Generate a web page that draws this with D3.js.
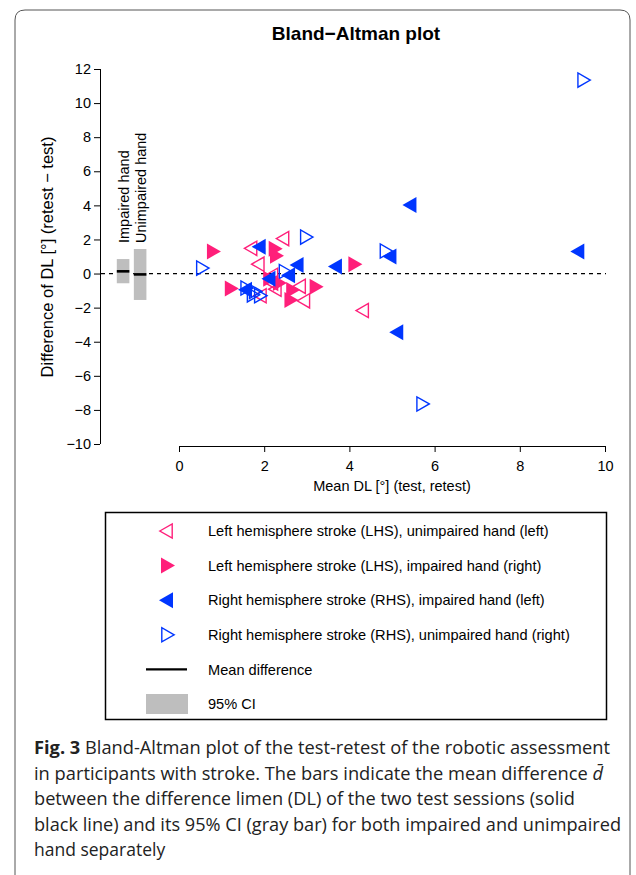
<!DOCTYPE html>
<html><head><meta charset="utf-8">
<script src="https://cdn.jsdelivr.net/npm/d3@7"></script>
<style>body{margin:0;background:#fff}svg{display:block}</style>
</head><body>
<script>
// ---- data ----
const lhsUnimpaired = [[1.68,1.48],[2.43,2.05],[1.85,0.55],[2.17,-0.1],[2.17,-0.55],[2.25,-0.92],[2.82,-0.75],[2.92,-1.6],[1.9,-1.3],[4.3,-2.17]];
const lhsImpaired   = [[0.82,1.3],[2.27,1.45],[2.3,1.05],[1.24,-0.87],[2.14,-0.3],[2.37,-0.55],[2.68,-0.97],[2.64,-1.55],[3.23,-0.77],[4.14,0.55]];
const rhsImpaired   = [[1.87,1.57],[2.76,0.5],[3.66,0.42],[2.1,-0.3],[2.56,-0.1],[1.55,-0.95],[5.41,4.02],[4.94,1.0],[5.1,-3.45],[9.35,1.3]];
const rhsUnimpaired = [[0.56,0.32],[3.0,2.14],[4.87,1.32],[5.73,-7.65],[9.51,11.35],[2.5,0.12],[1.6,-0.85],[1.8,-1.05],[1.92,-1.3],[1.75,-1.25]];
const ciGroups = ["Impaired hand","Unimpaired hand"];
const ciMean  = [0.13,-0.05];
const ciLower = [-0.57,-1.55];
const ciUpper = [0.85,1.44];
const xTicks = [0,2,4,6,8,10];
const yTicks = [-10,-8,-6,-4,-2,0,2,4,6,8,10,12];
const legendLabels = ["Left hemisphere stroke (LHS), unimpaired hand (left)","Left hemisphere stroke (LHS), impaired hand (right)","Right hemisphere stroke (RHS), impaired hand (left)","Right hemisphere stroke (RHS), unimpaired hand (right)","Mean difference","95% CI"];
const captionLines = ["Bland-Altman plot of the test-retest of the robotic assessment","in participants with stroke. The bars indicate the mean difference ","between the difference limen (DL) of the two test sessions (solid","black line) and its 95% CI (gray bar) for both impaired and unimpaired","hand separately"];

const PINK="#ff1f7a", BLUE="#0036ff";
const W=636,H=875;
const svg=d3.select("body").append("svg").attr("width",W).attr("height",H);
const sans="'Liberation Sans', Arial, Helvetica, sans-serif";

// outer frame
svg.append("path").attr("d",`M15,${H+5} L15,20 Q15,10 25,10 L620,10 Q630,10 630,20 L630,${H+5}`)
  .attr("fill","none").attr("stroke","#555").attr("stroke-width",1);

const x=d3.scaleLinear().domain([0,10]).range([179,605]);
const y=d3.scaleLinear().domain([-10,12]).range([444,69]);

// title
svg.append("text").attr("x",356).attr("y",40).attr("text-anchor","middle")
  .attr("font-family",sans).attr("font-weight","bold").attr("font-size",19).text("Bland\u2212Altman plot");

// axes
const minus = d=> d<0 ? "\u2212"+Math.abs(d) : ""+d;
const gy=svg.append("g").attr("transform","translate(100,0)")
  .call(d3.axisLeft(y).tickValues(yTicks).tickFormat(minus).tickSize(6).tickPadding(3));
const gx=svg.append("g").attr("transform","translate(0,446)")
  .call(d3.axisBottom(x).tickValues(xTicks).tickSize(6).tickPadding(9));
[gx,gy].forEach(g=>{g.select(".domain").attr("stroke","#000").attr("stroke-width",1);
  g.selectAll("line").attr("stroke","#000");
  g.selectAll("text").attr("font-family",sans).attr("font-size",14.5).attr("fill","#000");});
gx.select(".domain").attr("d","M179,0.5H605");
gy.select(".domain").attr("d","M0.5,69V444");

svg.append("text").attr("x",392).attr("y",491).attr("text-anchor","middle")
  .attr("font-family",sans).attr("font-size",14.5).text("Mean DL [°] (test, retest)");
svg.append("text").attr("transform","translate(53,257) rotate(-90)").attr("text-anchor","middle")
  .attr("font-family",sans).attr("font-size",16.5).text("Difference of DL [°] (retest \u2212 test)");

// zero line
svg.append("line").attr("x1",101).attr("x2",606).attr("y1",y(0)).attr("y2",y(0))
  .attr("stroke","#000").attr("stroke-width",1.2).attr("stroke-dasharray","4,4");

// CI bars
const barX=[-1.46,-1.06], barW=0.295;
ciGroups.forEach((g,i)=>{
  const x0=x(barX[i]), x1=x(barX[i]+barW);
  svg.append("rect").attr("x",x0).attr("width",x1-x0).attr("y",y(ciUpper[i])).attr("height",y(ciLower[i])-y(ciUpper[i])).attr("fill","#bebebe");
  svg.append("line").attr("x1",x0).attr("x2",x1).attr("y1",y(ciMean[i])).attr("y2",y(ciMean[i])).attr("stroke","#000").attr("stroke-width",2.6);
  svg.append("text").attr("transform",`translate(${(x0+x1)/2+5.5},243) rotate(-90)`)
    .attr("font-family",sans).attr("font-size",14.5).text(g);
});

// markers
const triL="M-7,0L7,-8L7,8Z", triR="M7,0L-7,-8L-7,8Z";
const triLo="M-6.2,0L6.2,-7.1L6.2,7.1Z", triRo="M6.2,0L-6.2,-7.1L-6.2,7.1Z";
function draw(data,d,fill,stroke){
  svg.append("g").selectAll("path").data(data).join("path")
    .attr("transform",p=>`translate(${x(p[0])},${y(p[1])})`).attr("d",d)
    .attr("fill",fill).attr("stroke",stroke).attr("stroke-width",stroke==="none"?0:1.4);
}
draw(lhsUnimpaired,triLo,"none",PINK);
draw(rhsUnimpaired,triRo,"none",BLUE);
draw(lhsImpaired,triR,PINK,"none");
draw(rhsImpaired,triL,BLUE,"none");

// legend
svg.append("rect").attr("x",105.5).attr("y",512.5).attr("width",501).attr("height",207)
  .attr("fill","none").attr("stroke","#000").attr("stroke-width",1.5);
const ly=d3.scaleLinear().domain([0,5]).range([531,704]);
legendLabels.forEach((t,i)=>{
  const cy=ly(i);
  if(i===0) svg.append("path").attr("transform",`translate(166,${cy})`).attr("d",triLo).attr("fill","none").attr("stroke",PINK).attr("stroke-width",1.4);
  if(i===1) svg.append("path").attr("transform",`translate(168,${cy})`).attr("d",triR).attr("fill",PINK);
  if(i===2) svg.append("path").attr("transform",`translate(166,${cy})`).attr("d",triL).attr("fill",BLUE);
  if(i===3) svg.append("path").attr("transform",`translate(168,${cy})`).attr("d",triRo).attr("fill","none").attr("stroke",BLUE).attr("stroke-width",1.4);
  if(i===4) svg.append("line").attr("x1",146).attr("x2",187).attr("y1",cy).attr("y2",cy).attr("stroke","#000").attr("stroke-width",2.2);
  if(i===5) svg.append("rect").attr("x",146).attr("y",cy-10).attr("width",42).attr("height",20).attr("fill","#bebebe");
  svg.append("text").attr("x",208).attr("y",cy).attr("dy","0.35em").attr("font-family",sans).attr("font-size",14.6).text(t);
});

// caption
const cf="'Open Sans', 'Noto Sans', sans-serif";
const cap=svg.append("g").attr("font-family",cf).attr("font-size",17.5).attr("fill","#222");
const base=[754,779.5,805,830.5,856];
const ends=[610,603,575,621,null];
captionLines.forEach((t,i)=>{
  const tx=cap.append("text").attr("x",34).attr("y",base[i]);
  if(i===0){tx.append("tspan").attr("font-weight","bold").text("Fig. 3 ");}
  tx.append("tspan").text(t);
  if(i===1){tx.append("tspan").attr("font-style","italic").text("d\u0304");}
  if(ends[i]) tx.attr("textLength",ends[i]-34).attr("lengthAdjust","spacingAndGlyphs");
});
</script>
</body></html>
